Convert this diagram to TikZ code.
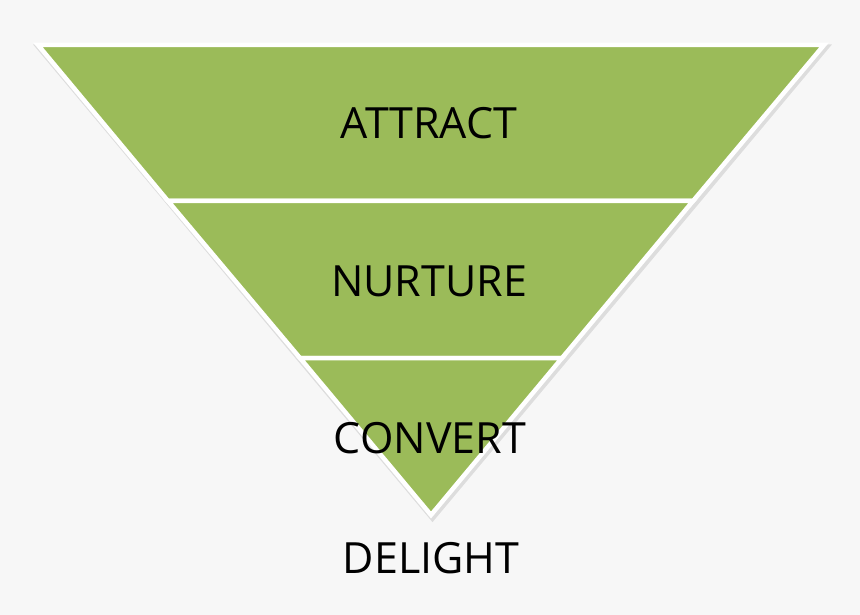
\documentclass[tikz,border=0pt]{standalone}
\usepackage{fontspec}
\setmainfont{Open Sans}
\definecolor{funnelgreen}{HTML}{9BBB59}
\definecolor{paper}{HTML}{F7F7F7}
\tikzset{
  band/.style={fill=funnelgreen, draw=white, line width=4.5pt, line join=miter},
  stage/.style={font=\fontsize{43}{47}\selectfont, text=black, inner sep=0pt}
}
\begin{document}
\begin{tikzpicture}[x=1pt, y=-1pt, line join=round]
	% Hintergrund
	\fill[paper] (0,0) rectangle (860,615);
	\useasboundingbox (0,0) rectangle (860,615);

	% Eckpunkte des Trichters
	\coordinate (TL) at (38,45); \coordinate (TR) at (824,45);
	\coordinate (Tip) at (431,515);
	\coordinate (L1) at (168,201); \coordinate (R1) at (693,201);
	\coordinate (L2) at (300,358); \coordinate (R2) at (562,358);

	% Schatten
	\draw[black, opacity=0.10, line width=6pt, line join=miter] ([shift={(1.5,2.5)}]TL) -- ([shift={(1.5,2.5)}]TR) -- ([shift={(1.5,2.5)}]Tip) -- cycle;

	% Die drei Stufen
	\draw[band] (TL) -- (TR) -- (R1) -- (L1) -- cycle;
	\draw[band] (L1) -- (R1) -- (R2) -- (L2) -- cycle;
	\draw[band] (L2) -- (R2) -- (Tip) -- cycle;

	% Beschriftungen
	\node[stage] (attract) at (429,123) {ATTRACT};
	\node[stage] (nurture) at (429,281) {NURTURE};
	\node[stage] (convert) at (430,438) {CONVERT};
	\node[stage] (delight) at (431,558) {DELIGHT};
\end{tikzpicture}
\end{document}
